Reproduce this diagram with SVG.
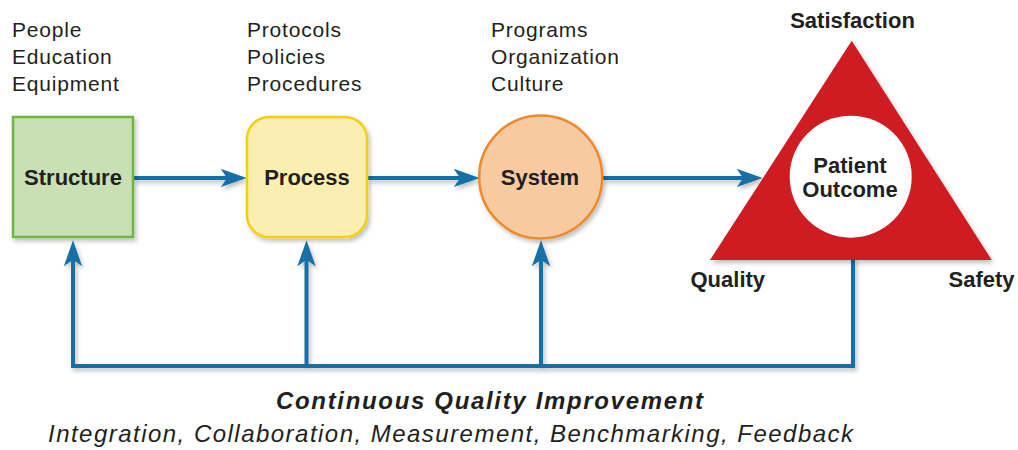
<svg xmlns="http://www.w3.org/2000/svg" width="1018" height="450" viewBox="0 0 1018 450">
<style>
.lbl{font-family:"Liberation Sans",Arial,sans-serif;font-size:21px;fill:#231f20;letter-spacing:0.8px}
.nb{font-family:"Liberation Sans",Arial,sans-serif;font-size:22px;font-weight:bold;fill:#231f20}
.cq{font-family:"Liberation Sans",Arial,sans-serif;font-size:24px;font-weight:bold;font-style:italic;fill:#231f20}
.sub{font-family:"Liberation Sans",Arial,sans-serif;font-size:24px;font-style:italic;fill:#231f20}
.con{fill:none;stroke:#1570a6;stroke-width:4}
</style>
<defs>
<filter id="sh" x="-20%" y="-20%" width="140%" height="140%">
<feDropShadow dx="2" dy="3" stdDeviation="2" flood-color="#000" flood-opacity="0.25"/>
</filter>
<marker id="ah" markerUnits="userSpaceOnUse" markerWidth="26" markerHeight="19" refX="16" refY="8.5" orient="auto" viewBox="0 0 24 17">
<path d="M0,0 L24,8.5 L0,17 L6,8.5 Z" fill="#1570a6"/>
</marker>
</defs>

<g id="labels-structure">
<text class="lbl" x="12" y="37">People</text>
<text class="lbl" x="12" y="64">Education</text>
<text class="lbl" x="12" y="91">Equipment</text>
</g>
<g id="labels-process">
<text class="lbl" x="247" y="37">Protocols</text>
<text class="lbl" x="247" y="64">Policies</text>
<text class="lbl" x="247" y="91">Procedures</text>
</g>
<g id="labels-system">
<text class="lbl" x="491" y="37">Programs</text>
<text class="lbl" x="491" y="64">Organization</text>
<text class="lbl" x="491" y="91">Culture</text>
</g>

<g id="connectors" filter="url(#sh)">
<path class="con" d="M133,178 H238" marker-end="url(#ah)"/>
<path class="con" d="M368,178 H471" marker-end="url(#ah)"/>
<path class="con" d="M602,178 H754" marker-end="url(#ah)"/>
<path class="con" d="M853,258 V366 H73 V249" marker-end="url(#ah)"/>
<path class="con" d="M306.5,366 V249" marker-end="url(#ah)"/>
<path class="con" d="M541,366 V249" marker-end="url(#ah)"/>
</g>

<g id="structure">
<rect x="13" y="117" width="120" height="120" fill="#c9e0b4" stroke="#6db544" stroke-width="2.5" filter="url(#sh)"/>
<text class="nb" x="73" y="185" text-anchor="middle">Structure</text>
</g>
<g id="process">
<rect x="247" y="117" width="120" height="120" rx="22" fill="#faefb0" stroke="#f5cf0a" stroke-width="2.5" filter="url(#sh)"/>
<text class="nb" x="307" y="185" text-anchor="middle">Process</text>
</g>
<g id="system">
<circle cx="540.7" cy="177" r="61.5" fill="#f8caa0" stroke="#ec8a2e" stroke-width="2.5" filter="url(#sh)"/>
<text class="nb" x="540" y="185" text-anchor="middle">System</text>
</g>
<g id="patient-outcome">
<polygon points="851.7,40.7 991.7,260 710,260" fill="#cf1a22" filter="url(#sh)"/>
<circle cx="850.7" cy="176.7" r="61" fill="#ffffff"/>
<text class="nb" x="850" y="172.5" text-anchor="middle">Patient</text>
<text class="nb" x="850" y="196.5" text-anchor="middle">Outcome</text>
<text class="nb" x="852.5" y="28.3" text-anchor="middle">Satisfaction</text>
<text class="nb" x="690.5" y="286.7">Quality</text>
<text class="nb" x="948.5" y="286.7">Safety</text>
</g>

<g id="cqi">
<text class="cq" x="276" y="409" textLength="427" lengthAdjust="spacing">Continuous Quality Improvement</text>
<text class="sub" x="48" y="441.7" textLength="805" lengthAdjust="spacing">Integration, Collaboration, Measurement, Benchmarking, Feedback</text>
</g>
</svg>
